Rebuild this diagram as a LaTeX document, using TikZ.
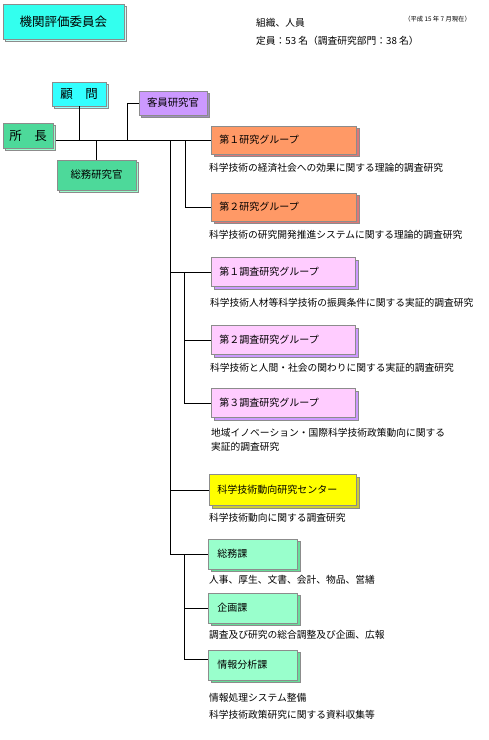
\documentclass[tikz,border=0pt]{standalone}
\usepackage{fontspec}
\setmainfont{Noto Sans CJK JP}
\usetikzlibrary{shadows}
\definecolor{bgray}{HTML}{8C8C8C}
\definecolor{tCy}{HTML}{33FFEE}\definecolor{tCyS}{HTML}{C8FFF8}
\definecolor{kCy}{HTML}{33FFFF}\definecolor{kCyS}{HTML}{99FFFF}
\definecolor{gr}{HTML}{4DD99A}\definecolor{grS}{HTML}{99FFCC}
\definecolor{pu}{HTML}{CC99FF}\definecolor{puS}{HTML}{A08FC0}
\definecolor{orn}{HTML}{FF9966}\definecolor{ornS}{HTML}{DD7777}
\definecolor{pk}{HTML}{FFCCFF}\definecolor{pkS}{HTML}{CC99FF}
\definecolor{ye}{HTML}{FFFF00}\definecolor{yeS}{HTML}{CCCC33}
\definecolor{mi}{HTML}{99FFCC}\definecolor{miS}{HTML}{66DD99}
\tikzset{
  obox/.style 2 args={draw=bgray, line width=0.9pt, fill=#1,
    copy shadow={shadow xshift=2.5pt, shadow yshift=-2.5pt, fill=#2, draw=bgray, line width=0.9pt},
    inner ysep=0pt},
  cbox/.style 2 args={minimum width=#1, minimum height=#2, inner xsep=0pt, align=center},
  lbox/.style 2 args={text width=#1, minimum height=#2, inner xsep=8pt, align=left, anchor=west},
  bigtxt/.style={font=\fontsize{12.5}{14}\selectfont},
  midtxt/.style={font=\fontsize{10.4}{12}\selectfont},
  boxtxt/.style={font=\fontsize{10}{12}\selectfont},
  desc/.style={anchor=west, inner sep=0pt, align=left, font=\fontsize{9.75}{14}\selectfont},
  conn/.style={draw=black, line width=0.9pt},
}
\begin{document}
\begin{tikzpicture}[x=1pt,y=-1pt]
\useasboundingbox (0,0) rectangle (488,740);
\fill[white] (0,0) rectangle (488,740);
% header
\node[obox={tCy}{tCyS}, cbox={121pt}{35pt}, bigtxt] (title) at (63.5,21.5) {機関評価委員会};
\node[desc] (org) at (256,23) {組織、人員};
\node[desc] (teiin) at (256,41) {定員：53 名（調査研究部門：38 名）};
\node[anchor=east, inner sep=0pt, font=\fontsize{6.3}{7}\selectfont] (date) at (471,19) {（平成 15 年 7 月現在）};
% top management
\node[obox={kCy}{kCyS}, cbox={54pt}{24pt}, bigtxt] (komon) at (79,94) {顧　問};
\node[obox={gr}{grS}, cbox={50pt}{25pt}, bigtxt] (shocho) at (28,135.5) {所　長};
\node[obox={pu}{puS}, cbox={68pt}{24pt}, midtxt] (kyakuin) at (173,103) {客員研究官};
\node[obox={gr}{grS}, cbox={79pt}{30pt}, midtxt] (somukan) at (96.5,175) {総務研究官};
% groups
\node[obox={orn}{ornS}, lbox={129pt}{28pt}, boxtxt] (g1) at (211,140) {第１研究グループ};
\node[desc] (d1) at (209,168) {科学技術の経済社会への効果に関する理論的調査研究};
\node[obox={orn}{ornS}, lbox={129pt}{28pt}, boxtxt] (g2) at (211,207) {第２研究グループ};
\node[desc] (d2) at (209,235) {科学技術の研究開発推進システムに関する理論的調査研究};
\node[obox={pk}{pkS}, lbox={128pt}{29pt}, boxtxt] (c1) at (211,272) {第１調査研究グループ};
\node[desc] (d3) at (210,303) {科学技術人材等科学技術の振興条件に関する実証的調査研究};
\node[obox={pk}{pkS}, lbox={128pt}{29pt}, boxtxt] (c2) at (211,340) {第２調査研究グループ};
\node[desc] (d4) at (210,368) {科学技術と人間・社会の関わりに関する実証的調査研究};
\node[obox={pk}{pkS}, lbox={128pt}{29pt}, boxtxt] (c3) at (211,403) {第３調査研究グループ};
\node[desc] (d5) at (211,440) {地域イノベーション・国際科学技術政策動向に関する\\実証的調査研究};
\node[obox={ye}{yeS}, lbox={131pt}{31pt}, boxtxt] (ctr) at (209,490) {科学技術動向研究センター};
\node[desc] (d6) at (209,518) {科学技術動向に関する調査研究};
\node[obox={mi}{miS}, lbox={71pt}{30pt}, inner xsep=9pt, boxtxt] (somuka) at (208,554) {総務課};
\node[desc] (d7) at (209,580) {人事、厚生、文書、会計、物品、営繕};
\node[obox={mi}{miS}, lbox={71pt}{30pt}, inner xsep=9pt, boxtxt] (kikaku) at (208,608) {企画課};
\node[desc] (d8) at (209,635) {調査及び研究の総合調整及び企画、広報};
\node[obox={mi}{miS}, lbox={71pt}{30pt}, inner xsep=9pt, boxtxt] (joho) at (208,665) {情報分析課};
\node[desc, font=\fontsize{9.75}{17}\selectfont] (d9) at (209,706.5) {情報処理システム整備\\科学技術政策研究に関する資料収集等};
% connectors
\coordinate (t0) at (56,140);
\coordinate (kv) at (127,140);
\coordinate (va) at (185,140);
\coordinate (vb) at (170,140);
\coordinate (vc) at (184,272);
\coordinate (vd) at (184,554);
\coordinate (je) at (208,659);
\draw[conn] (t0) -- (g1.west);
\draw[conn] (komon.south) -- (komon.south |- t0);
\draw[conn] (kyakuin.west) -| (kv);
\draw[conn] (somukan.north) -- (somukan.north |- t0);
\draw[conn] (va) |- (g2.west);
\draw[conn] (vb) |- (somuka.west);
\draw[conn] (vb |- c1.west) -- (c1.west);
\draw[conn] (vb |- ctr.west) -- (ctr.west);
\draw[conn] (vc) |- (c3.west);
\draw[conn] (vc |- c2.west) -- (c2.west);
\draw[conn] (vd) |- (je);
\draw[conn] (vd |- kikaku.west) -- (kikaku.west);
\end{tikzpicture}
\end{document}
